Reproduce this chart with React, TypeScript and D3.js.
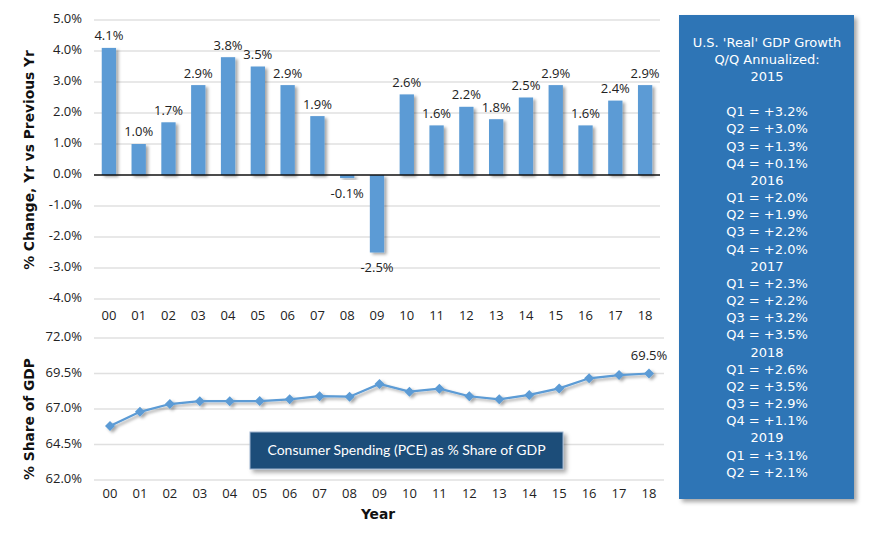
import React from "react";
import * as d3 from "d3";

const years = ["00","01","02","03","04","05","06","07","08","09","10","11","12","13","14","15","16","17","18"];
const gdpGrowth = [4.1,1.0,1.7,2.9,3.8,3.5,2.9,1.9,-0.1,-2.5,2.6,1.6,2.2,1.8,2.5,2.9,1.6,2.4,2.9];
const pceShare = [65.8,66.8,67.35,67.55,67.55,67.56,67.68,67.9,67.87,68.76,68.22,68.43,67.9,67.68,67.99,68.45,69.16,69.39,69.5];
const topTicks = [5,4,3,2,1,0,-1,-2,-3,-4];
const bottomTicks = [72,69.5,67,64.5,62];
const panelHeader = ["U.S. 'Real' GDP Growth","Q/Q Annualized:","2015"];
const panelLines = [
  "Q1 = +3.2%","Q2 = +3.0%","Q3 = +1.3%","Q4 = +0.1%","2016",
  "Q1 = +2.0%","Q2 = +1.9%","Q3 = +2.2%","Q4 = +2.0%","2017",
  "Q1 = +2.3%","Q2 = +2.2%","Q3 = +3.2%","Q4 = +3.5%","2018",
  "Q1 = +2.6%","Q2 = +3.5%","Q3 = +2.9%","Q4 = +1.1%","2019",
  "Q1 = +3.1%","Q2 = +2.1%"
];

const FONT = "'Open Sans', sans-serif";
const BOLD = "'DejaVu Sans', sans-serif";
const PANEL = "'DejaVu Sans', sans-serif";

export default function App() {
  const xTop = d3.scaleBand<string>().domain(years).range([94, 660]).paddingInner(0.52).paddingOuter(0.26);
  const yTop = d3.scaleLinear().domain([-4, 5]).range([299, 20]);
  const xBot = d3.scalePoint<string>().domain(years).range([110, 649]);
  const yBot = d3.scaleLinear().domain([62, 72]).range([480, 338]);
  const line = d3.line<number>().x((_, i) => xBot(years[i]) as number).y(d => yBot(d));
  const fmt = (v: number) => v.toFixed(1) + "%";

  return (
    <svg width={870} height={535} style={{ position: "absolute", left: 0, top: 0, background: "#fff" }}>
      <defs>
        <filter id="sh" x="-50%" y="-50%" width="200%" height="200%">
          <feDropShadow dx="2.5" dy="2" stdDeviation="1.5" floodColor="#000" floodOpacity="0.35" />
        </filter>
        <filter id="shb" x="-10%" y="-10%" width="130%" height="130%">
          <feDropShadow dx="3" dy="3" stdDeviation="2" floodColor="#000" floodOpacity="0.35" />
        </filter>
      </defs>

      {/* Top chart grid */}
      {topTicks.map(t => (
        <g key={"tt" + t}>
          {t !== 0 && <line x1={94} x2={660} y1={yTop(t)} y2={yTop(t)} stroke="#e0e0e0" strokeWidth={1.3} />}
          <text x={82} y={yTop(t)} textAnchor="end" dominantBaseline="middle" fontFamily={FONT} fontSize={13} fill="#222">{fmt(t)}</text>
        </g>
      ))}
      {gdpGrowth.map((v, i) => {
        const x = xTop(years[i]) as number;
        const w = xTop.bandwidth();
        const y0 = yTop(Math.max(0, v));
        const h = Math.abs(yTop(v) - yTop(0));
        return <rect key={"b" + i} x={x} y={y0} width={w} height={h} fill="#5b9bd5" filter="url(#sh)" />;
      })}
      <line x1={94} x2={660} y1={yTop(0)} y2={yTop(0)} stroke="#111" strokeWidth={1.5} />
      {gdpGrowth.map((v, i) => {
        const cx = (xTop(years[i]) as number) + xTop.bandwidth() / 2;
        const y = v >= 0 ? yTop(v) - 11 : yTop(v) + 16;
        return <text key={"l" + i} x={cx} y={y} textAnchor="middle" dominantBaseline="middle" fontFamily={FONT} fontSize={13} fill="#222">{fmt(v)}</text>;
      })}
      {years.map(yr => (
        <text key={"xt" + yr} x={(xTop(yr) as number) + xTop.bandwidth() / 2} y={317} textAnchor="middle" dominantBaseline="middle" fontFamily={FONT} fontSize={13} fill="#222">{yr}</text>
      ))}
      <text transform="translate(30,160) rotate(-90)" textAnchor="middle" dominantBaseline="middle" fontFamily={BOLD} fontWeight="bold" fontSize={13.8} fill="#111">% Change, Yr vs Previous Yr</text>

      {/* Bottom chart */}
      {bottomTicks.map(t => (
        <g key={"bt" + t}>
          <line x1={94} x2={664} y1={yBot(t)} y2={yBot(t)} stroke="#e0e0e0" strokeWidth={1.3} />
          <text x={82} y={yBot(t)} textAnchor="end" dominantBaseline="middle" fontFamily={FONT} fontSize={13} fill="#222">{fmt(t)}</text>
        </g>
      ))}
      <g filter="url(#sh)">
        <path d={line(pceShare) || ""} fill="none" stroke="#5b9bd5" strokeWidth={2.2} />
        {pceShare.map((v, i) => {
          const cx = xBot(years[i]) as number;
          const cy = yBot(v);
          return <path key={"m" + i} d={`M${cx},${cy - 5}L${cx + 5},${cy}L${cx},${cy + 5}L${cx - 5},${cy}Z`} fill="#5b9bd5" />;
        })}
      </g>
      <text x={(xBot(years[18]) as number)} y={yBot(pceShare[18]) - 17} textAnchor="middle" dominantBaseline="middle" fontFamily={FONT} fontSize={13} fill="#222">{fmt(pceShare[18])}</text>
      {years.map(yr => (
        <text key={"xb" + yr} x={xBot(yr) as number} y={495} textAnchor="middle" dominantBaseline="middle" fontFamily={FONT} fontSize={13} fill="#222">{yr}</text>
      ))}
      <text x={378} y={515} textAnchor="middle" dominantBaseline="middle" fontFamily={BOLD} fontWeight="bold" fontSize={13.8} fill="#111">Year</text>
      <text transform="translate(30,419) rotate(-90)" textAnchor="middle" dominantBaseline="middle" fontFamily={BOLD} fontWeight="bold" fontSize={13.8} fill="#111">% Share of GDP</text>

      <rect x={250} y={432} width={313} height={37} fill="#1f4e79" stroke="#9db3cf" strokeWidth={1} filter="url(#shb)" />
      <text x={406.5} y={451} textAnchor="middle" dominantBaseline="middle" fontFamily="Lato, sans-serif" fontSize={14} fill="#fff">Consumer Spending (PCE) as % Share of GDP</text>

      {/* Right panel */}
      <rect x={679} y={15} width={175} height={484} fill="#2e75b6" filter="url(#shb)" />
      {panelHeader.map((t, i) => (
        <text key={"ph" + i} x={767} y={43 + i * 17.3} textAnchor="middle" dominantBaseline="middle" fontFamily={PANEL} fontSize={13} fill="#fff">{t}</text>
      ))}
      {panelLines.map((t, i) => (
        <text key={"pl" + i} x={767} y={112.7 + i * 17.17} textAnchor="middle" dominantBaseline="middle" fontFamily={PANEL} fontSize={13} fill="#fff">{t}</text>
      ))}
    </svg>
  );
}
